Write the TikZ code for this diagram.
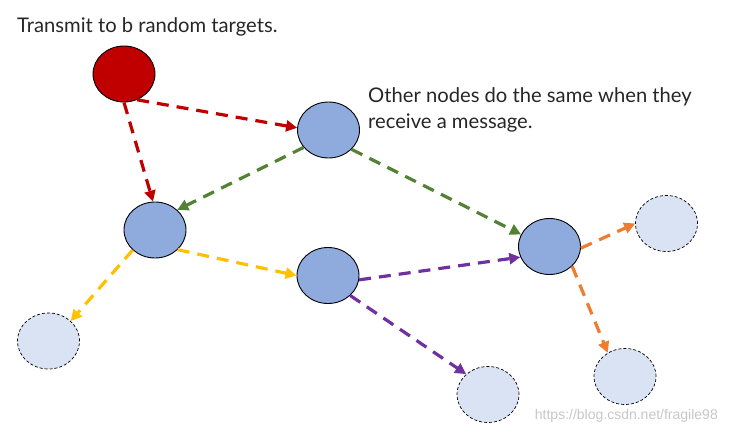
\documentclass[tikz,border=0pt]{standalone}
\usepackage{fontspec}
\setmainfont{Lato}
\newfontfamily\wmfont{Liberation Sans}
\usetikzlibrary{shapes.geometric,arrows.meta}
\definecolor{cred}{HTML}{C00000}
\definecolor{cblue}{HTML}{8FAADC}
\definecolor{clight}{HTML}{DAE3F3}
\definecolor{cgreen}{HTML}{548235}
\definecolor{cyellow}{HTML}{FFC000}
\definecolor{cpurple}{HTML}{7030A0}
\definecolor{corange}{HTML}{ED7D31}
\definecolor{ctext}{HTML}{262626}
\tikzset{
  peer/.style={ellipse,minimum width=62pt,minimum height=56pt,inner sep=0pt,draw=black,line width=0.9pt},
  active/.style={peer,fill=cblue},
  source/.style={peer,fill=cred},
  idle/.style={peer,fill=clight,dash pattern=on 3pt off 2pt,line width=0.7pt},
  msg/.style={line width=3.2pt,dash pattern=on 12pt off 8pt,-{Triangle[length=11pt,width=11pt]}},
  caption/.style={font=\fontsize{20.2}{26}\selectfont,text=ctext,inner sep=0pt}
}
\begin{document}
\begin{tikzpicture}[x=1pt,y=-1pt]
\useasboundingbox (0,0) rectangle (729,435);
\node[source] (r) at (124,74) {};
\node[active] (a) at (328.5,130) {};
\node[active] (b) at (155,230) {};
\node[active] (c) at (328,275.5) {};
\node[active] (d) at (549.5,246.5) {};
\node[idle] (e) at (666.5,223.5) {};
\node[idle] (f) at (625,376.5) {};
\node[idle] (g) at (488,394.5) {};
\node[idle] (h) at (48.5,341) {};

\draw[msg,cred] (r.297) -- (a.176);
\draw[msg,cred] (r.south) -- (b.94);
\draw[msg,cgreen] (a.215) -- (b.42);
\draw[msg,cgreen] (a.320) -- (d.157);
\draw[msg,cyellow] (b.319) -- (c.west);
\draw[msg,cyellow] (b.222) -- (h.42);
\draw[msg,cpurple] (c.352) -- (d.200);
\draw[msg,cpurple] (c.318) -- (g.137);
\draw[msg,corange] (d.357) -- (e.west);
\draw[msg,corange] (d.319) -- (f.126);

\node[caption,anchor=base west] (t1) at (17,33) {Transmit to b random targets.};
\node[caption,anchor=base west,align=left] (t2) at (368,129) {Other nodes do the same when they\\receive a message.};
\node[anchor=base east,inner sep=0pt,font=\wmfont\fontsize{14}{16}\selectfont,text=black!22] (wm) at (718,420) {https://blog.csdn.net/fragile98};
\end{tikzpicture}
\end{document}
